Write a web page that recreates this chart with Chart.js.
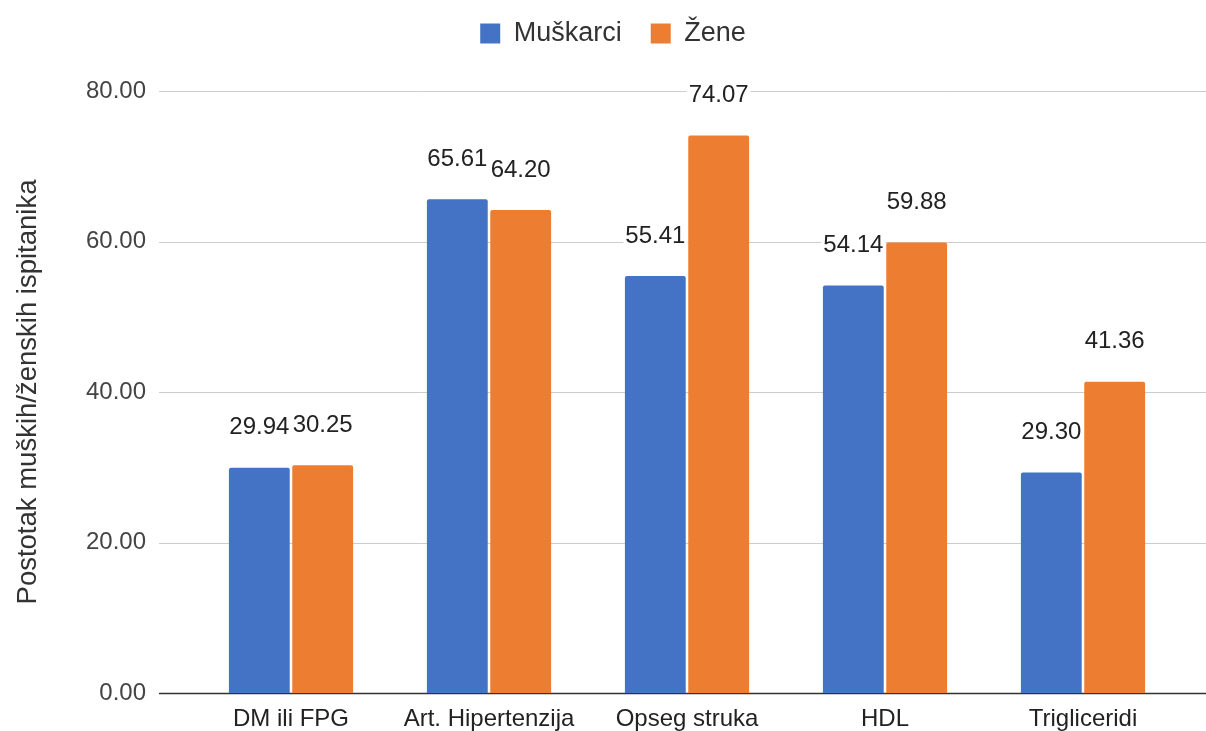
<!DOCTYPE html>
<html>
<head>
<meta charset="utf-8">
<script src="https://cdn.jsdelivr.net/npm/chart.js@4.4.1/dist/chart.umd.min.js"></script>
<style>
  html, body { margin: 0; padding: 0; background: #fff; overflow: hidden; }
  canvas { display: block; }
</style>
</head>
<body>
<canvas id="myBarChart" width="1206" height="731"></canvas>
<script>
// --- Data ---
const CATEGORIES = ["DM ili FPG", "Art. Hipertenzija", "Opseg struka", "HDL", "Trigliceridi"];
const SERIES_NAMES = ["Muškarci", "Žene"];
const MUSKARCI = [29.94, 65.61, 55.41, 54.14, 29.3];
const ZENE = [30.25, 64.2, 74.07, 59.88, 41.36];
const Y_TICKS = [0, 20, 40, 60, 80];
const AXIS_TITLE = "Postotak muških/ženskih ispitanika";

const COLORS = ["#4472C4", "#ED7D31"];
const FONT = "'Liberation Sans', Arial, sans-serif";

// legend: fixed height and nudged, like the original
const legendPlugin = {
  id: "legendFix",
  beforeLayout(chart) {
    const lg = chart.legend;
    if (lg && !lg._patched) {
      const orig = lg.fit;
      lg.fit = function () {
        orig.call(this);
        this.height = 85;
      };
      lg._patched = true;
    }
  },
  afterLayout(chart) {
    const lg = chart.legend;
    if (lg) {
      lg.left += 22;
      lg.right += 22;
      lg.top -= 15;
      lg.bottom -= 15;
    }
  },
};

// horizontal gridlines are wider than the category area, so draw them by hand
const gridPlugin = {
  id: "wideGrid",
  beforeDatasetsDraw(chart) {
    const ctx = chart.ctx;
    const y = chart.scales.y;
    ctx.save();
    Y_TICKS.forEach((v) => {
      const py = Math.round(y.getPixelForValue(v)) + 0.5;
      ctx.beginPath();
      ctx.strokeStyle = v === 0 ? "#333333" : "#cccccc";
      ctx.lineWidth = v === 0 ? 1.5 : 1;
      ctx.moveTo(159, py);
      ctx.lineTo(1206, py);
      ctx.stroke();
    });
    ctx.restore();
  },
};

const labelPlugin = {
  id: "barValues",
  afterDatasetsDraw(chart) {
    const ctx = chart.ctx;
    ctx.save();
    ctx.font = "24px " + FONT;
    ctx.textAlign = "center";
    ctx.textBaseline = "middle";
    chart.data.datasets.forEach((ds, di) => {
      const meta = chart.getDatasetMeta(di);
      meta.data.forEach((bar, i) => {
        const txt = ds.data[i].toFixed(2);
        const ty = bar.y - 40;
        const w = ctx.measureText(txt).width;
        ctx.fillStyle = "#ffffff";
        ctx.fillRect(bar.x - w / 2 - 2, ty - 11, w + 4, 22);
        ctx.fillStyle = "#222222";
        ctx.fillText(txt, bar.x, ty);
      });
    });
    ctx.restore();
  },
};

function getDatasets() {
  return [MUSKARCI, ZENE].map((vals, i) => ({
    label: SERIES_NAMES[i],
    data: vals,
    backgroundColor: COLORS[i],
    borderRadius: { topLeft: 2, topRight: 2 },
    categoryPercentage: 0.64,
    barPercentage: 0.96,
  }));
}

function init() {
  const ctx = document.getElementById("myBarChart").getContext("2d");
  new Chart(ctx, {
    type: "bar",
    data: { labels: CATEGORIES, datasets: getDatasets() },
    plugins: [legendPlugin, gridPlugin, labelPlugin],
    options: {
      responsive: false,
      animation: false,
      devicePixelRatio: 1,
      layout: { padding: { left: 0, right: 24, top: 6, bottom: 0 } },
      scales: {
        x: {
          grid: { display: false, drawTicks: false },
          border: { display: false },
          ticks: { color: "#222222", font: { family: FONT, size: 24 }, padding: 12, maxRotation: 0 },
          afterFit: (s) => {
            s.height = 38;
            s.paddingLeft = 0;
            s.paddingRight = 0;
          },
        },
        y: {
          min: 0,
          max: 80,
          afterBuildTicks: (s) => { s.ticks = Y_TICKS.map((v) => ({ value: v })); },
          grid: { display: false, drawTicks: false },
          border: { display: false },
          ticks: {
            color: "#444444",
            font: { family: FONT, size: 24 },
            padding: 46,
            callback: (v) => Number(v).toFixed(2),
          },
          title: {
            display: true,
            text: AXIS_TITLE,
            color: "#333333",
            font: { family: FONT, size: 27.5 },
            padding: { top: 12, bottom: 0 },
          },
          afterFit: (s) => {
            s.width = 192;
            s.paddingTop = 0;
            s.paddingBottom = 0;
          },
        },
      },
      plugins: {
        legend: {
          position: "top",
          labels: {
            color: "#333333",
            font: { family: FONT, size: 27 },
            boxWidth: 20,
            boxHeight: 20,
            padding: 29,
          },
        },
        tooltip: { enabled: false },
      },
    },
  });
}

document.addEventListener("DOMContentLoaded", init);
</script>
</body>
</html>
